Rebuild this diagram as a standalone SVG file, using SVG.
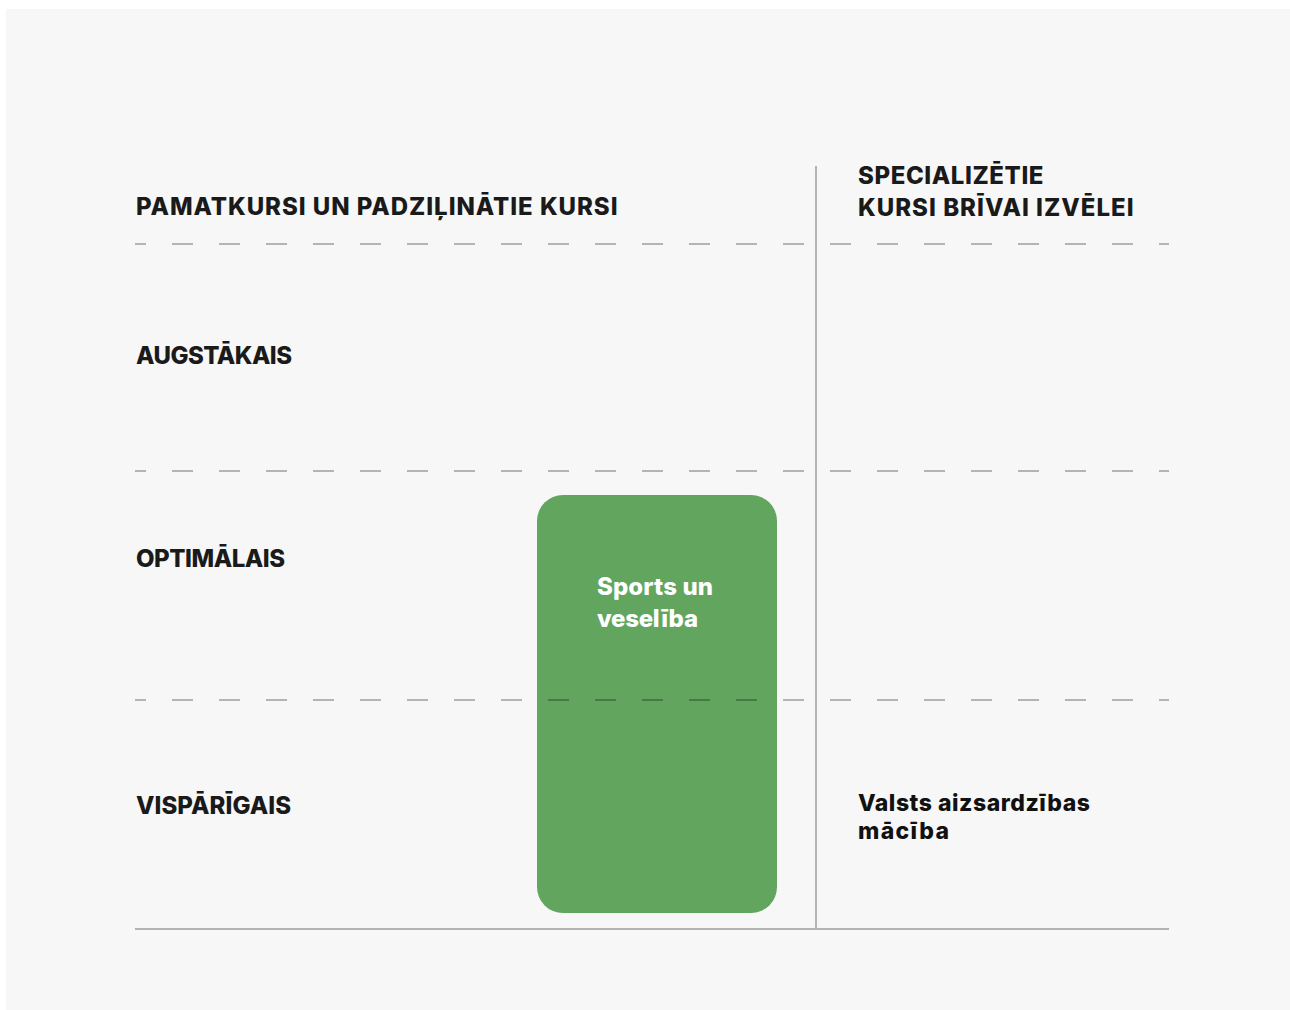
<svg xmlns="http://www.w3.org/2000/svg" width="1290" height="1010" viewBox="0 0 1290 1010">
<style>
.hd{font-family:Inter,"Liberation Sans",sans-serif;font-weight:800;font-size:24px;fill:#1a1a1a;letter-spacing:1.5px}
.rl{font-family:Inter,"Liberation Sans",sans-serif;font-weight:800;font-size:24px;fill:#1a1a1a}
.bx{font-family:Inter,"Liberation Sans",sans-serif;font-weight:800;font-size:24px;fill:#ffffff}
.tx{font-family:Inter,"Liberation Sans",sans-serif;font-weight:800;font-size:23px;fill:#111111}
.dash{stroke:#000;stroke-opacity:0.27;stroke-width:2;stroke-dasharray:21 26;stroke-dashoffset:10;fill:none}
.solid{stroke:#b3b3b3;stroke-width:2;fill:none}
</style>
<rect x="0" y="0" width="1290" height="1010" fill="#ffffff"/>
<rect x="6" y="9" width="1284" height="1001" fill="#f7f7f7"/>
<g id="headers">
<text class="hd" x="136" y="215" textLength="483" lengthAdjust="spacing">PAMATKURSI UN PADZIĻINĀTIE KURSI</text>
<text class="hd" x="858" y="184" textLength="187" lengthAdjust="spacing">SPECIALIZĒTIE</text>
<text class="hd" x="858" y="216" textLength="277" lengthAdjust="spacing">KURSI BRĪVAI IZVĒLEI</text>
</g>
<g id="row-augstakais"><text class="rl" x="136" y="364" textLength="156" lengthAdjust="spacing">AUGSTĀKAIS</text></g>
<g id="row-optimalais"><text class="rl" x="136" y="567" textLength="149" lengthAdjust="spacing">OPTIMĀLAIS</text></g>
<g id="row-visparigais"><text class="rl" x="136" y="814" textLength="155" lengthAdjust="spacing">VISPĀRĪGAIS</text></g>
<g id="node-sports">
<rect x="537" y="495" width="240" height="418" rx="26" ry="26" fill="#62a55f"/>
<text class="bx" x="597" y="595" textLength="116" lengthAdjust="spacing">Sports un</text>
<text class="bx" x="597" y="627" textLength="101" lengthAdjust="spacing">veselība</text>
</g>
<g id="node-valsts">
<text class="tx" x="858" y="811" textLength="232" lengthAdjust="spacing">Valsts aizsardzības</text>
<text class="tx" x="858" y="839" textLength="91" lengthAdjust="spacing">mācība</text>
</g>
<g id="connectors">
<line class="dash" x1="135" y1="244" x2="1169" y2="244"/>
<line class="dash" x1="135" y1="471" x2="1169" y2="471"/>
<line class="dash" x1="135" y1="700" x2="1169" y2="700"/>
<line class="solid" x1="816" y1="166" x2="816" y2="928"/>
<line class="solid" x1="135" y1="929" x2="1169" y2="929"/>
</g>
</svg>
